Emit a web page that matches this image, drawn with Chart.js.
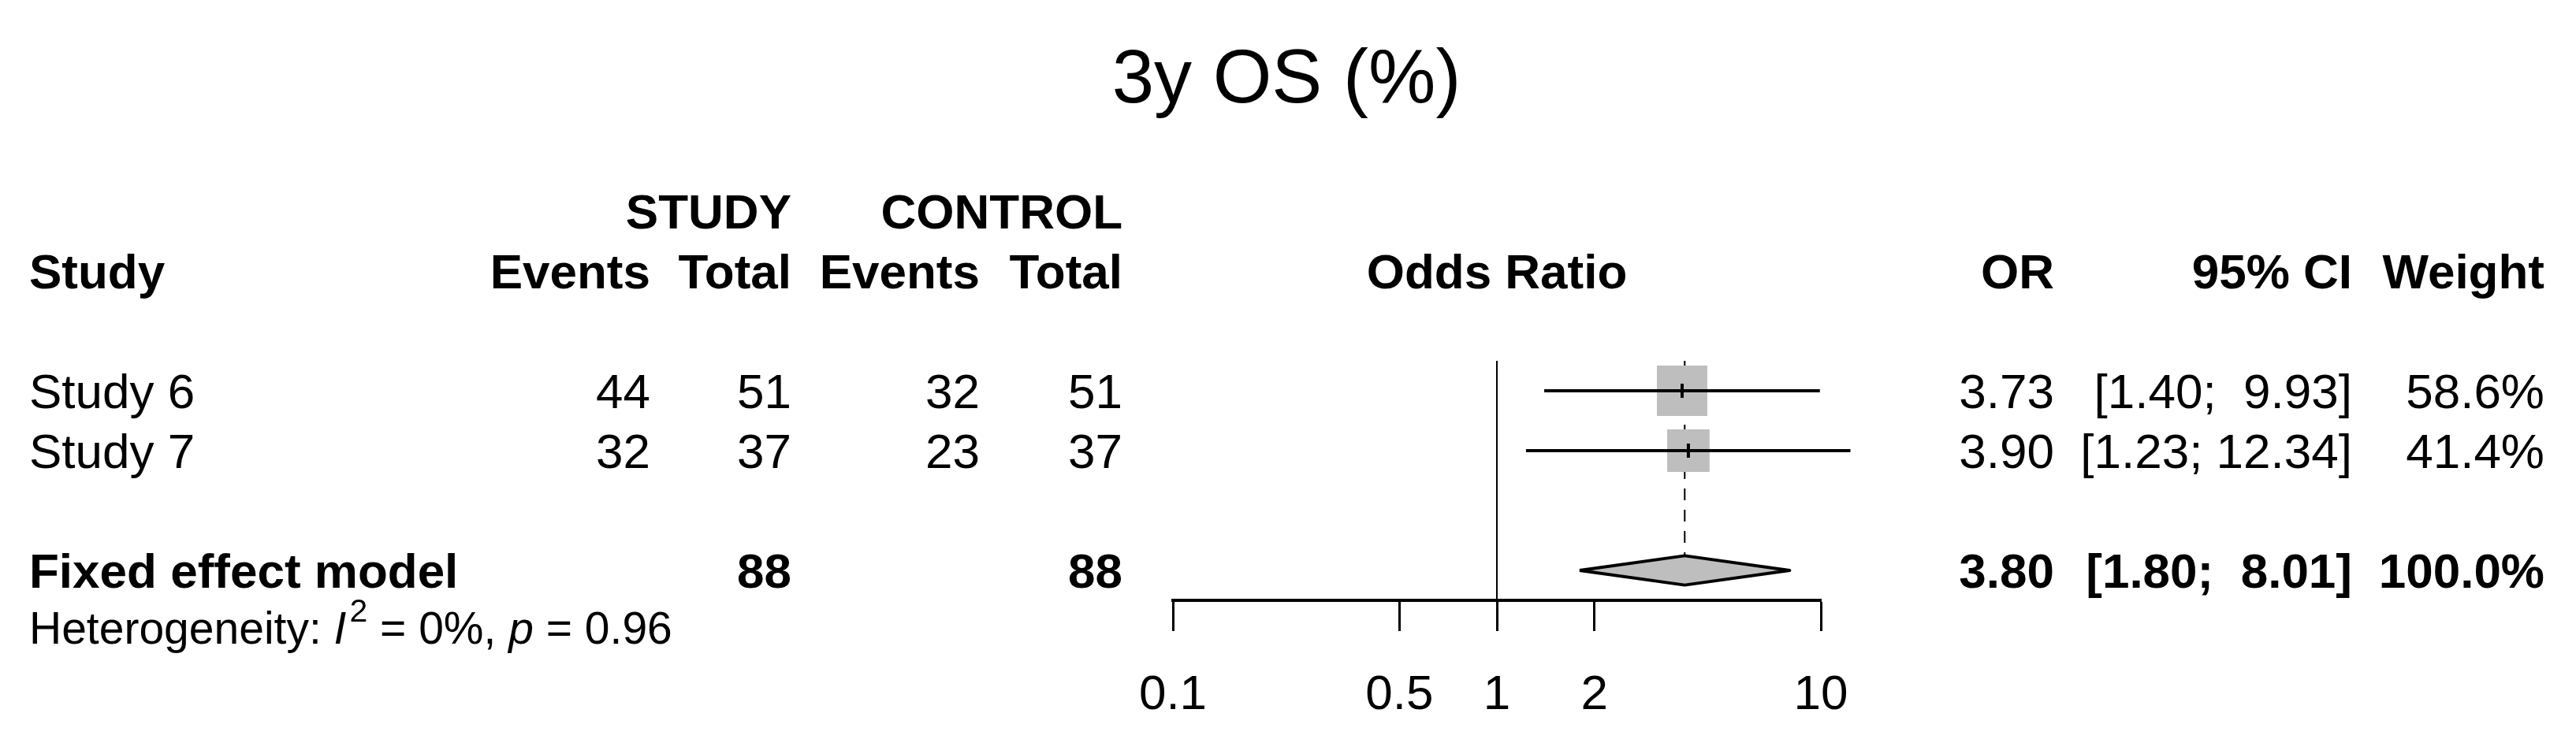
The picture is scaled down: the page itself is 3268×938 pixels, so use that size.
<!DOCTYPE html>
<html>
<head>
<meta charset="utf-8">
<title>3y OS (%)</title>
<script src="https://cdn.jsdelivr.net/npm/chart.js@4.4.1/dist/chart.umd.min.js"></script>
<style>
    html, body { margin: 0; padding: 0; background: #fff; }
    canvas { display: block; }
</style>
</head>
<body>
<canvas id="forest" width="3268" height="938"></canvas>
<script>
// study rows
var STUDIES = ['Study 6', 'Study 7'];
var EVENTS_STUDY = [44, 32];
var TOTAL_STUDY = [51, 37];
var EVENTS_CONTROL = [32, 23];
var TOTAL_CONTROL = [51, 37];
var OR = [3.73, 3.90];
var CI_LOWER = [1.40, 1.23];
var CI_UPPER = [9.93, 12.34];
var WEIGHT = [58.6, 41.4];

// fixed effect model
var POOLED_LABEL = 'Fixed effect model';
var POOLED_TOTAL_STUDY = 88;
var POOLED_TOTAL_CONTROL = 88;
var POOLED_OR = 3.80;
var POOLED_LOWER = 1.80;
var POOLED_UPPER = 8.01;
var POOLED_WEIGHT = 100.0;
var HET_I2 = 0;
var HET_P = 0.96;

// x axis
var X_TICKS = [0.1, 0.5, 1, 2, 10];
var X_TICK_LABELS = ['0.1', '0.5', '1', '2', '10'];

var TITLE = '3y OS (%)';

(function () {
    'use strict';

    var FONT = '"Liberation Sans", Arial, Helvetica, sans-serif';
    var GREY = '#bebebe';
    var SIZE = 62;
    var HET_SIZE = 57;
    var DIAMOND_H = 0.245;     // half height of the summary diamond, in rows
    var SQUARE_K = 8.36;       // square side per sqrt(weight), px

    var pooledRow = STUDIES.length + 1;
    var hetRow = pooledRow + 0.95;

    // right edges of the table columns (left edge for the study label)
    var COL = {
        study: 37, evStudy: 825, totStudy: 1004, evControl: 1243, totControl: 1424,
        or: 2606, ci: 2984, weight: 3228
    };

    function fmtCI(lo, hi) {
        return '[' + lo.toFixed(2) + '; ' + hi.toFixed(2).padStart(5, ' ') + ']';
    }

    function put(ctx, str, x, yc, align, size, weight, style) {
        ctx.font = (style || 'normal') + ' ' + (weight || 'normal') + ' ' + size + 'px ' + FONT;
        ctx.textAlign = align;
        ctx.textBaseline = 'alphabetic';
        ctx.fillText(String(str), x, yc + size * 0.358);
        return ctx.measureText(String(str)).width;
    }

    var tablePlugin = {
        id: 'forestTable',
        afterDraw: function (chart) {
            var ctx = chart.ctx,
                y = chart.scales.y,
                x = chart.scales.x,
                r;

            ctx.save();
            ctx.fillStyle = '#000';

            // title
            put(ctx, TITLE, 1632, 96, 'center', 96);

            // header
            r = y.getPixelForValue(-3);
            put(ctx, 'STUDY', COL.totStudy, r, 'right', SIZE, 'bold');
            put(ctx, 'CONTROL', COL.totControl, r, 'right', SIZE, 'bold');
            r = y.getPixelForValue(-2);
            put(ctx, 'Study', COL.study, r, 'left', SIZE, 'bold');
            put(ctx, 'Events', COL.evStudy, r, 'right', SIZE, 'bold');
            put(ctx, 'Total', COL.totStudy, r, 'right', SIZE, 'bold');
            put(ctx, 'Events', COL.evControl, r, 'right', SIZE, 'bold');
            put(ctx, 'Total', COL.totControl, r, 'right', SIZE, 'bold');
            put(ctx, 'Odds Ratio', x.getPixelForValue(1), r, 'center', SIZE, 'bold');
            put(ctx, 'OR', COL.or, r, 'right', SIZE, 'bold');
            put(ctx, '95% CI', COL.ci, r, 'right', SIZE, 'bold');
            put(ctx, 'Weight', COL.weight, r, 'right', SIZE, 'bold');

            // studies
            STUDIES.forEach(function (name, i) {
                var yc = y.getPixelForValue(i);
                put(ctx, name, COL.study, yc, 'left', SIZE);
                put(ctx, EVENTS_STUDY[i], COL.evStudy, yc, 'right', SIZE);
                put(ctx, TOTAL_STUDY[i], COL.totStudy, yc, 'right', SIZE);
                put(ctx, EVENTS_CONTROL[i], COL.evControl, yc, 'right', SIZE);
                put(ctx, TOTAL_CONTROL[i], COL.totControl, yc, 'right', SIZE);
                put(ctx, OR[i].toFixed(2), COL.or, yc, 'right', SIZE);
                put(ctx, fmtCI(CI_LOWER[i], CI_UPPER[i]), COL.ci, yc, 'right', SIZE);
                put(ctx, WEIGHT[i].toFixed(1) + '%', COL.weight, yc, 'right', SIZE);
            });

            // pooled
            r = y.getPixelForValue(pooledRow);
            put(ctx, POOLED_LABEL, COL.study, r, 'left', SIZE, 'bold');
            put(ctx, POOLED_TOTAL_STUDY, COL.totStudy, r, 'right', SIZE, 'bold');
            put(ctx, POOLED_TOTAL_CONTROL, COL.totControl, r, 'right', SIZE, 'bold');
            put(ctx, POOLED_OR.toFixed(2), COL.or, r, 'right', SIZE, 'bold');
            put(ctx, fmtCI(POOLED_LOWER, POOLED_UPPER), COL.ci, r, 'right', SIZE, 'bold');
            put(ctx, POOLED_WEIGHT.toFixed(1) + '%', COL.weight, r, 'right', SIZE, 'bold');

            // heterogeneity line
            r = y.getPixelForValue(hetRow);
            var cx = COL.study;
            cx += put(ctx, 'Heterogeneity: ', cx, r, 'left', HET_SIZE);
            cx += put(ctx, 'I', cx, r, 'left', HET_SIZE, 'normal', 'italic') + 4;
            cx += put(ctx, '2', cx, r - 22, 'left', Math.round(HET_SIZE * 0.72));
            cx += put(ctx, ' = ' + HET_I2 + '%, ', cx, r, 'left', HET_SIZE);
            cx += put(ctx, 'p', cx, r, 'left', HET_SIZE, 'normal', 'italic');
            put(ctx, ' = ' + HET_P.toFixed(2), cx, r, 'left', HET_SIZE);

            ctx.restore();
        }
    };

    var studyPoints = OR.map(function (v, i) { return {x: v, y: i}; });
    var datasets = [];

    // summary diamond (drawn on top)
    datasets.push({
        data: [
            {x: POOLED_LOWER, y: pooledRow},
            {x: POOLED_OR, y: pooledRow - DIAMOND_H},
            {x: POOLED_UPPER, y: pooledRow},
            {x: POOLED_OR, y: pooledRow + DIAMOND_H},
            {x: POOLED_LOWER, y: pooledRow}
        ],
        showLine: true,
        fill: 'shape',
        backgroundColor: GREY,
        borderColor: '#000',
        borderWidth: 4,
        borderJoinStyle: 'round',
        tension: 0,
        pointRadius: 0,
        clip: false
    });

    // small vertical mark at each estimate
    datasets.push({
        data: studyPoints,
        showLine: false,
        pointStyle: 'line',
        rotation: 90,
        pointRadius: 9,
        pointBorderWidth: 4,
        pointBorderColor: '#000',
        borderColor: '#000',
        clip: false
    });

    // confidence interval whiskers
    STUDIES.forEach(function (name, i) {
        datasets.push({
            data: [{x: CI_LOWER[i], y: i}, {x: CI_UPPER[i], y: i}],
            showLine: true,
            borderColor: '#000',
            borderWidth: 4,
            pointRadius: 0,
            clip: false
        });
    });

    // weight squares
    datasets.push({
        data: studyPoints,
        showLine: false,
        pointStyle: 'rect',
        pointRadius: WEIGHT.map(function (w) { return SQUARE_K * Math.sqrt(w) / Math.SQRT2; }),
        pointBackgroundColor: GREY,
        backgroundColor: GREY,
        pointBorderWidth: 0,
        borderWidth: 0,
        clip: false
    });

    // line of no effect
    datasets.push({
        data: [{x: 1, y: -0.5}, {x: 1, y: pooledRow + 0.5}],
        showLine: true,
        borderColor: '#000',
        borderWidth: 2,
        pointRadius: 0
    });

    // pooled estimate, dashed
    datasets.push({
        data: [{x: POOLED_OR, y: -0.5}, {x: POOLED_OR, y: pooledRow - DIAMOND_H}],
        showLine: true,
        borderColor: '#000',
        borderWidth: 2,
        borderDash: [15, 12],
        pointRadius: 0
    });

    new Chart(document.getElementById('forest'), {
        type: 'scatter',
        data: {datasets: datasets},
        options: {
            responsive: false,
            animation: false,
            events: [],
            layout: {padding: {left: 1488, right: 958, top: 458, bottom: 0}},
            plugins: {
                legend: {display: false},
                tooltip: {enabled: false},
                title: {display: false}
            },
            scales: {
                x: {
                    type: 'logarithmic',
                    position: 'bottom',
                    min: 0.1,
                    max: 10,
                    afterBuildTicks: function (s) {
                        s.ticks = X_TICKS.map(function (v) { return {value: v}; });
                    },
                    afterFit: function (s) {
                        s.height = 176;
                    },
                    border: {display: true, color: '#000', width: 4},
                    grid: {
                        drawOnChartArea: false,
                        drawTicks: true,
                        tickLength: 39,
                        tickWidth: 3,
                        tickColor: '#000',
                        color: '#000'
                    },
                    ticks: {
                        autoSkip: false,
                        maxRotation: 0,
                        minRotation: 0,
                        color: '#000',
                        padding: 51,
                        font: {family: FONT, size: 62, lineHeight: 1},
                        callback: function (v, i) {
                            return X_TICK_LABELS[i];
                        }
                    }
                },
                y: {
                    type: 'linear',
                    display: false,
                    reverse: true,
                    min: -0.5,
                    max: pooledRow + 0.5
                }
            }
        },
        plugins: [tablePlugin]
    });
})();
</script>
</body>
</html>
